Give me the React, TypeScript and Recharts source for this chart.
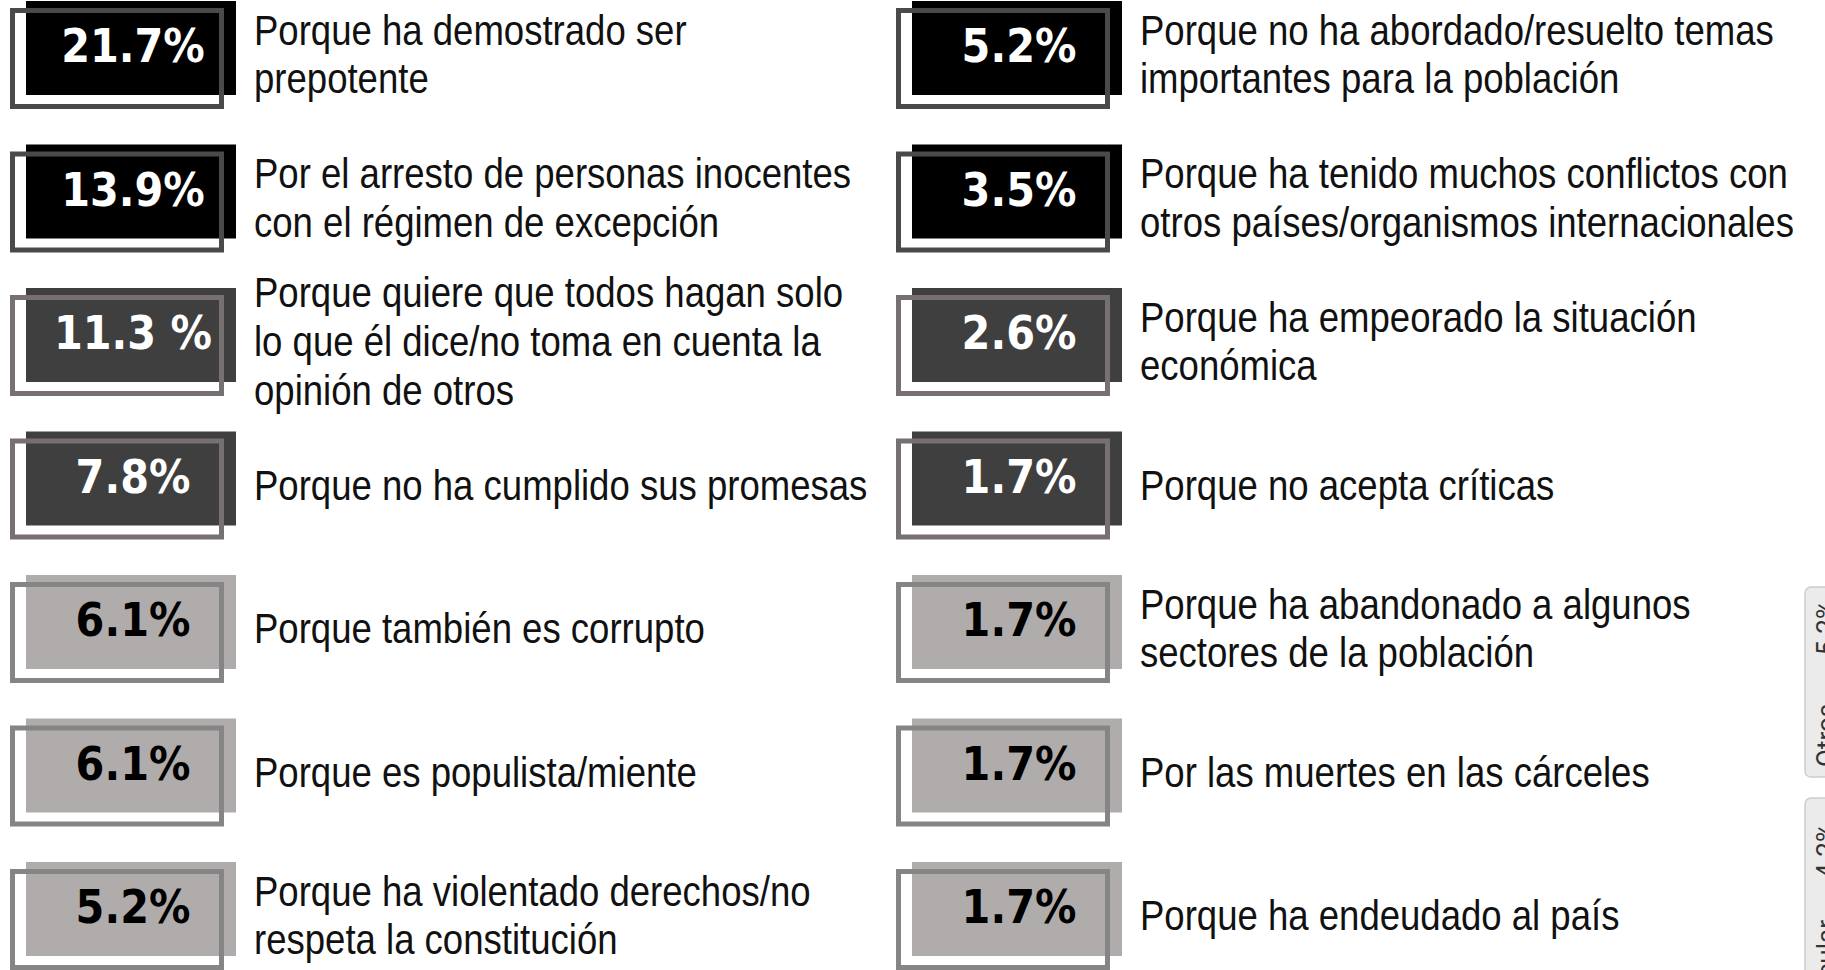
import React from 'react';
import { ScatterChart, Scatter, XAxis, YAxis } from 'recharts';

// percentages as printed on the boxes
const leftPct = ['21.7%', '13.9%', '11.3 %', '7.8%', '6.1%', '6.1%', '5.2%'];
const rightPct = ['5.2%', '3.5%', '2.6%', '1.7%', '1.7%', '1.7%', '1.7%'];

const leftReasons = [
  ['Porque ha demostrado ser', 'prepotente'],
  ['Por el arresto de personas inocentes', 'con el régimen de excepción'],
  ['Porque quiere que todos hagan solo', 'lo que él dice/no toma en cuenta la', 'opinión de otros'],
  ['Porque no ha cumplido sus promesas'],
  ['Porque también es corrupto'],
  ['Porque es populista/miente'],
  ['Porque ha violentado derechos/no', 'respeta la constitución'],
];

const rightReasons = [
  ['Porque no ha abordado/resuelto temas', 'importantes para la población'],
  ['Porque ha tenido muchos conflictos con', 'otros países/organismos internacionales'],
  ['Porque ha empeorado la situación', 'económica'],
  ['Porque no acepta críticas'],
  ['Porque ha abandonado a algunos', 'sectores de la población'],
  ['Por las muertes en las cárceles'],
  ['Porque ha endeudado al país'],
];

const tones = ['black', 'black', 'dark', 'dark', 'light', 'light', 'light'];

// third column, only its edge shows on the right
const sideLabels = ['Otros', 'Ninguna en particular'];
const sidePct = ['5.2%', '4.2%'];

const palette: Record<string, { fill: string; stroke: string; text: string }> = {
  black: { fill: '#000000', stroke: '#4a4a4a', text: '#ffffff' },
  dark: { fill: '#3f3f3f', stroke: '#767170', text: '#ffffff' },
  light: { fill: '#b0acab', stroke: '#858585', text: '#000000' },
};

const cells = [
  ...leftPct.map((pct, i) => ({ col: 0, row: i, pct, lines: leftReasons[i], tone: tones[i] })),
  ...rightPct.map((pct, i) => ({ col: 1, row: i, pct, lines: rightReasons[i], tone: tones[i] })),
];

const side = sideLabels.map((label, i) => ({ col: 2, row: 4, label, pct: sidePct[i], idx: i }));

const labelFont = "'Liberation Sans', Arial, sans-serif";
const pctFont = "'DejaVu Sans Condensed', 'DejaVu Sans', sans-serif";

const BOX_W = 210;
const BOX_H = 94;
const LINE = 49;

const ReasonBox = (props: any) => {
  const { cx, cy, payload } = props;
  const c = palette[payload.tone];
  const lines: string[] = payload.lines;
  const first = cy + 68 - ((lines.length - 1) * LINE) / 2;
  return (
    <g>
      <rect x={cx} y={cy} width={BOX_W} height={BOX_H} fill={c.fill} />
      <rect x={cx - 13.5} y={cy + 9.5} width={209} height={96} fill="none" stroke={c.stroke} strokeWidth={5} />
      <text
        x={cx + 107}
        y={cy + 61}
        textAnchor="middle"
        fill={c.text}
        fontFamily={pctFont}
        fontWeight="bold"
        fontSize={46}
      >
        {payload.pct}
      </text>
      <text transform={`translate(${cx + 228}, ${first}) scale(0.85, 1)`} fill="#111" fontFamily={labelFont} fontSize={43}>
        {lines.map((l, i) => (
          <tspan key={i} x={0} y={i * LINE}>
            {l}
          </tspan>
        ))}
      </text>
    </g>
  );
};

const SideTab = (props: any) => {
  const { cx, cy, payload } = props;
  const top = cy + 12 + payload.idx * 211;
  const x = cx + 7;
  const len = payload.idx === 0 ? 190 : 380;
  const pad = payload.idx === 0 ? 13 : 25;
  return (
    <g>
      <rect x={x} y={top} width={60} height={len} rx={6} fill="#ebebeb" stroke="#cdcdcd" strokeWidth={1.5} />
      <text
        transform={`translate(${x + 30}, ${top + len - 10}) rotate(-90)`}
        fill="#333"
        fontFamily="Roboto, sans-serif"
        fontSize={26}
      >
        {payload.label}
      </text>
      <text
        transform={`translate(${x + 30}, ${top + pad}) rotate(-90)`}
        textAnchor="end"
        fill="#333"
        fontFamily="Roboto, sans-serif"
        fontSize={26}
      >
        {payload.pct}
      </text>
    </g>
  );
};

export default function App() {
  return (
    <div style={{ position: 'absolute', left: 0, top: 0, background: '#fff' }}>
      <ScatterChart width={1825} height={970} margin={{ top: 1, right: 27, bottom: 108, left: 26 }}>
        <XAxis type="number" dataKey="col" domain={[0, 2]} hide />
        <YAxis type="number" dataKey="row" domain={[0, 6]} reversed hide />
        <Scatter data={cells} shape={ReasonBox} isAnimationActive={false} />
        <Scatter data={side} shape={SideTab} isAnimationActive={false} />
      </ScatterChart>
    </div>
  );
}
